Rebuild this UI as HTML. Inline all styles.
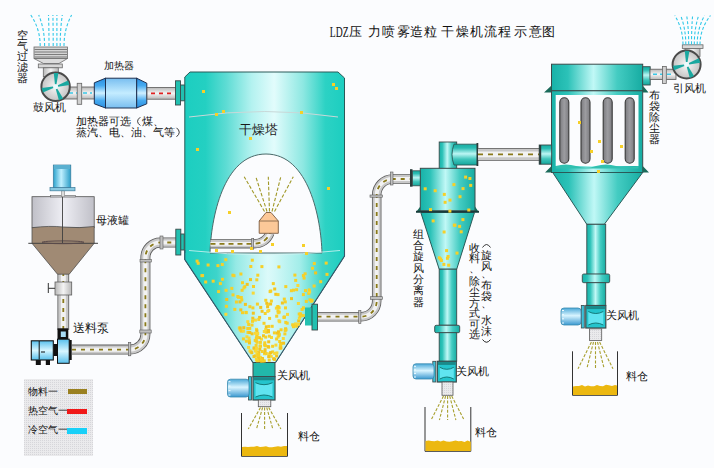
<!DOCTYPE html>
<html><head><meta charset="utf-8"><style>
html,body{margin:0;padding:0;background:#fbfcfe;}
svg{display:block;}
</style></head><body>
<svg width="714" height="468" viewBox="0 0 714 468" shape-rendering="geometricPrecision">

<defs>
 <linearGradient id="towerG" x1="0" x2="1" y1="0" y2="0">
  <stop offset="0" stop-color="#1ccec0"/>
  <stop offset="0.13" stop-color="#24d0c2"/>
  <stop offset="0.26" stop-color="#5edcd4"/>
  <stop offset="0.42" stop-color="#b4f2f0"/>
  <stop offset="0.56" stop-color="#e2fcfc"/>
  <stop offset="0.74" stop-color="#8ee8e2"/>
  <stop offset="0.88" stop-color="#2cd2c4"/>
  <stop offset="1" stop-color="#1ccec0"/>
 </linearGradient>
 <linearGradient id="coneG" x1="0" x2="1" y1="0" y2="0">
  <stop offset="0" stop-color="#1ccec0"/>
  <stop offset="0.2" stop-color="#3cd4ca"/>
  <stop offset="0.32" stop-color="#98eae6"/>
  <stop offset="0.52" stop-color="#dcfafa"/>
  <stop offset="0.72" stop-color="#a4eeea"/>
  <stop offset="0.86" stop-color="#40d4c8"/>
  <stop offset="1" stop-color="#1ccec0"/>
 </linearGradient>
 <linearGradient id="tealV" x1="0" x2="1" y1="0" y2="0">
  <stop offset="0" stop-color="#18b2a8"/>
  <stop offset="0.18" stop-color="#2cc2b8"/>
  <stop offset="0.46" stop-color="#c0f8f6"/>
  <stop offset="0.72" stop-color="#44ccc2"/>
  <stop offset="1" stop-color="#16aca2"/>
 </linearGradient>
 <linearGradient id="tealH" x1="0" x2="0" y1="0" y2="1">
  <stop offset="0" stop-color="#16aca2"/>
  <stop offset="0.18" stop-color="#2abcb2"/>
  <stop offset="0.46" stop-color="#bcf6f4"/>
  <stop offset="0.72" stop-color="#40c6bc"/>
  <stop offset="1" stop-color="#14a69c"/>
 </linearGradient>
 <linearGradient id="greyH" x1="0" x2="0" y1="0" y2="1">
  <stop offset="0" stop-color="#b8b8b8"/>
  <stop offset="0.5" stop-color="#f4f4f4"/>
  <stop offset="1" stop-color="#b8b8b8"/>
 </linearGradient>
 <linearGradient id="greyV" x1="0" x2="1" y1="0" y2="0">
  <stop offset="0" stop-color="#b8b8b8"/>
  <stop offset="0.5" stop-color="#f4f4f4"/>
  <stop offset="1" stop-color="#b8b8b8"/>
 </linearGradient>
 <linearGradient id="blueCap" x1="0" x2="0" y1="0" y2="1">
  <stop offset="0" stop-color="#2a8ee0"/>
  <stop offset="0.25" stop-color="#46aaf0"/>
  <stop offset="0.5" stop-color="#d0f0ff"/>
  <stop offset="0.75" stop-color="#46aaf0"/>
  <stop offset="1" stop-color="#2a8ee0"/>
 </linearGradient>
 <linearGradient id="blueBody" x1="0" x2="0" y1="0" y2="1">
  <stop offset="0" stop-color="#78bef0"/>
  <stop offset="0.5" stop-color="#c4ecff"/>
  <stop offset="1" stop-color="#78bef0"/>
 </linearGradient>
 <linearGradient id="blueV" x1="0" x2="1" y1="0" y2="0">
  <stop offset="0" stop-color="#2aa2cc"/>
  <stop offset="0.45" stop-color="#c0f0ff"/>
  <stop offset="1" stop-color="#2a9ec8"/>
 </linearGradient>
 <linearGradient id="tankG" x1="0" x2="1" y1="0" y2="0">
  <stop offset="0" stop-color="#c0c0c8"/>
  <stop offset="0.5" stop-color="#eeeef4"/>
  <stop offset="1" stop-color="#c0c0c8"/>
 </linearGradient>
 <radialGradient id="fanG" cx="0.5" cy="0.5" r="0.5">
  <stop offset="0" stop-color="#f8f8f8"/>
  <stop offset="1" stop-color="#c4c4c4"/>
 </radialGradient>
 <linearGradient id="bagG" x1="0" x2="1" y1="0" y2="0">
  <stop offset="0" stop-color="#7c7c80"/>
  <stop offset="0.5" stop-color="#9c9ca0"/>
  <stop offset="1" stop-color="#7c7c80"/>
 </linearGradient>
 <pattern id="dots" width="2" height="2" patternUnits="userSpaceOnUse">
  <rect width="2" height="2" fill="#eaeaec"/>
  <rect width="1" height="1" fill="#d6d6da"/>
 </pattern>
 <linearGradient id="motorG" x1="0" x2="0" y1="0" y2="1">
  <stop offset="0" stop-color="#4aa8d8"/>
  <stop offset="0.45" stop-color="#d8f4ff"/>
  <stop offset="1" stop-color="#3a98d0"/>
 </linearGradient>
 <linearGradient id="pumpG" x1="0" x2="0" y1="0" y2="1">
  <stop offset="0" stop-color="#58c0ec"/>
  <stop offset="0.5" stop-color="#d8f6ff"/>
  <stop offset="1" stop-color="#58c0ec"/>
 </linearGradient>
 <linearGradient id="blueH" x1="0" x2="0" y1="0" y2="1">
  <stop offset="0" stop-color="#2a9ad8"/>
  <stop offset="0.5" stop-color="#c8ecff"/>
  <stop offset="1" stop-color="#2a9ad8"/>
 </linearGradient>
</defs>

<rect width="714" height="468" fill="#fbfcfe"/>
<text x="329.8" y="37" font-size="15" fill="#111" font-family="&quot;Liberation Serif&quot;, serif" textLength="18.8" lengthAdjust="spacingAndGlyphs">LDZ</text>
<text x="349" y="36.2" font-size="12.6" fill="#111" font-family="&quot;Liberation Serif&quot;, serif" >压</text>
<text x="368.2" y="36.2" font-size="12.6" fill="#111" font-family="&quot;Liberation Serif&quot;, serif" >力</text>
<text x="381.6" y="36.2" font-size="12.6" fill="#111" font-family="&quot;Liberation Serif&quot;, serif" >喷</text>
<text x="396.8" y="36.2" font-size="12.6" fill="#111" font-family="&quot;Liberation Serif&quot;, serif" >雾</text>
<text x="410.3" y="36.2" font-size="12.6" fill="#111" font-family="&quot;Liberation Serif&quot;, serif" >造</text>
<text x="423.6" y="36.2" font-size="12.6" fill="#111" font-family="&quot;Liberation Serif&quot;, serif" >粒</text>
<text x="441.3" y="36.2" font-size="12.6" fill="#111" font-family="&quot;Liberation Serif&quot;, serif" >干</text>
<text x="455.6" y="36.2" font-size="12.6" fill="#111" font-family="&quot;Liberation Serif&quot;, serif" >燥</text>
<text x="469.9" y="36.2" font-size="12.6" fill="#111" font-family="&quot;Liberation Serif&quot;, serif" >机</text>
<text x="484.1" y="36.2" font-size="12.6" fill="#111" font-family="&quot;Liberation Serif&quot;, serif" >流</text>
<text x="498.4" y="36.2" font-size="12.6" fill="#111" font-family="&quot;Liberation Serif&quot;, serif" >程</text>
<text x="513.6" y="36.2" font-size="12.6" fill="#111" font-family="&quot;Liberation Serif&quot;, serif" >示</text>
<text x="528.6" y="36.2" font-size="12.6" fill="#111" font-family="&quot;Liberation Serif&quot;, serif" >意</text>
<text x="542.1" y="36.2" font-size="12.6" fill="#111" font-family="&quot;Liberation Serif&quot;, serif" >图</text>
<path d="M40.2,46 Q40.2,29 30.8,15" fill="none" stroke="#30c8e8" stroke-width="1.1" stroke-dasharray="3 2"/>
<path d="M44.6,46 Q44.6,29 38.7,15" fill="none" stroke="#30c8e8" stroke-width="1.1" stroke-dasharray="3 2"/>
<path d="M49,46 Q49,29 48.5,15" fill="none" stroke="#30c8e8" stroke-width="1.1" stroke-dasharray="3 2"/>
<path d="M53.2,46 Q53.2,29 52.9,15" fill="none" stroke="#30c8e8" stroke-width="1.1" stroke-dasharray="3 2"/>
<path d="M56.9,46 Q56.9,29 56.9,15" fill="none" stroke="#30c8e8" stroke-width="1.1" stroke-dasharray="3 2"/>
<path d="M60.2,46 Q60.2,29 62.3,15" fill="none" stroke="#30c8e8" stroke-width="1.1" stroke-dasharray="3 2"/>
<path d="M64,46 Q64,29 71.6,15" fill="none" stroke="#30c8e8" stroke-width="1.1" stroke-dasharray="3 2"/>
<rect x="34" y="47" width="33.5" height="11.5" fill="#d4d4d4" stroke="#6a6a6a" stroke-width="0.8" />
<line x1="34.5" y1="49.5" x2="67" y2="49.5" stroke="#707070" stroke-width="0.9" />
<line x1="34.5" y1="52" x2="67" y2="52" stroke="#707070" stroke-width="0.9" />
<line x1="34.5" y1="54.5" x2="67" y2="54.5" stroke="#707070" stroke-width="0.9" />
<line x1="34.5" y1="57" x2="67" y2="57" stroke="#707070" stroke-width="0.9" />
<path d="M34,58.5 L43.5,63.5 L59,63.5 L67.5,58.5 Z" fill="#dcdcdc" stroke="#6a6a6a" stroke-width="0.8"/>
<rect x="38.3" y="64" width="24" height="3.8" fill="#d8d8d8" stroke="#6a6a6a" stroke-width="0.8" />
<rect x="43.3" y="67.8" width="15" height="9" fill="url(#greyV)" stroke="#6a6a6a" stroke-width="0.8" />
<rect x="58" y="87" width="37" height="12" fill="url(#greyH)" stroke="#5a5a5a" stroke-width="0.8" />
<line x1="62" y1="93" x2="92" y2="93" stroke="#38c8e8" stroke-width="1.6" stroke-dasharray="4 3"/>
<rect x="77.2" y="83.3" width="4.5" height="21" fill="#d0d0d0" stroke="#666" stroke-width="0.8" />
<circle cx="55.6" cy="86.7" r="14.2" fill="url(#fanG)" stroke="#4a4a4a" stroke-width="2"/>
<path d="M56.5,84.2 L58.4,73.0 L53.8,72.9 L54.9,84.2 Z" fill="#1aa8a0"/>
<path d="M58.2,86.7 L69.4,84.9 L68.1,80.5 L57.8,85.2 Z" fill="#1aa8a0"/>
<path d="M55.8,89.3 L58.9,100.3 L63.1,98.5 L57.3,88.7 Z" fill="#1aa8a0"/>
<path d="M53.0,86.6 L41.7,88.0 L42.9,92.5 L53.4,88.1 Z" fill="#1aa8a0"/>
<circle cx="55.6" cy="86.7" r="2.2" fill="#e8fcff"/>
<path d="M94.3,82.8 L105.5,78.2 L105.5,108 L94.3,103.8 Z" fill="url(#blueCap)" stroke="#1e3050" stroke-width="1"/>
<path d="M136.6,78.2 L146.8,83.2 L146.8,103.8 L136.6,108 Z" fill="url(#blueCap)" stroke="#1e3050" stroke-width="1"/>
<rect x="105.5" y="78.2" width="31.1" height="29.8" fill="url(#blueBody)" stroke="#1e3050" stroke-width="1" />
<rect x="147" y="87.5" width="29" height="11.7" fill="url(#greyH)" stroke="#5a5a5a" stroke-width="0.8" />
<line x1="151" y1="93.3" x2="174" y2="93.3" stroke="#e02020" stroke-width="1.8" stroke-dasharray="4 4"/>
<rect x="175.5" y="80.8" width="5" height="24.2" fill="#22c0b0" stroke="#3a4a4a" stroke-width="0.9" />
<rect x="180.5" y="85" width="4.2" height="15.8" fill="#22c0b0" stroke="#3a4a4a" stroke-width="0.9" />
<text x="103.5" y="69" font-size="10" fill="#111" font-family="&quot;Liberation Sans&quot;, sans-serif" >加热器</text>
<text x="33" y="111" font-size="10.5" fill="#111" font-family="&quot;Liberation Sans&quot;, sans-serif" >鼓风机</text>
<text x="76.3" y="125.2" font-size="10.8" fill="#111" font-family="&quot;Liberation Sans&quot;, sans-serif" >加</text>
<text x="87.25" y="125.2" font-size="10.8" fill="#111" font-family="&quot;Liberation Sans&quot;, sans-serif" >热</text>
<text x="98.2" y="125.2" font-size="10.8" fill="#111" font-family="&quot;Liberation Sans&quot;, sans-serif" >器</text>
<text x="109.15" y="125.2" font-size="10.8" fill="#111" font-family="&quot;Liberation Sans&quot;, sans-serif" >可</text>
<text x="120.1" y="125.2" font-size="10.8" fill="#111" font-family="&quot;Liberation Sans&quot;, sans-serif" >选</text>
<text x="142.0" y="125.2" font-size="10.8" fill="#111" font-family="&quot;Liberation Sans&quot;, sans-serif" >煤</text>
<text x="152.95" y="125.2" font-size="10.8" fill="#111" font-family="&quot;Liberation Sans&quot;, sans-serif" >、</text>
<path d="M140.3,117.2 Q134.8,121.3 140.3,125.5" fill="none" stroke="#222" stroke-width="0.9"/>
<text x="76.3" y="136.2" font-size="10.8" fill="#111" font-family="&quot;Liberation Sans&quot;, sans-serif" >蒸</text>
<text x="87.25" y="136.2" font-size="10.8" fill="#111" font-family="&quot;Liberation Sans&quot;, sans-serif" >汽</text>
<text x="98.2" y="136.2" font-size="10.8" fill="#111" font-family="&quot;Liberation Sans&quot;, sans-serif" >、</text>
<text x="109.15" y="136.2" font-size="10.8" fill="#111" font-family="&quot;Liberation Sans&quot;, sans-serif" >电</text>
<text x="120.1" y="136.2" font-size="10.8" fill="#111" font-family="&quot;Liberation Sans&quot;, sans-serif" >、</text>
<text x="131.05" y="136.2" font-size="10.8" fill="#111" font-family="&quot;Liberation Sans&quot;, sans-serif" >油</text>
<text x="142.0" y="136.2" font-size="10.8" fill="#111" font-family="&quot;Liberation Sans&quot;, sans-serif" >、</text>
<text x="152.95" y="136.2" font-size="10.8" fill="#111" font-family="&quot;Liberation Sans&quot;, sans-serif" >气</text>
<text x="163.9" y="136.2" font-size="10.8" fill="#111" font-family="&quot;Liberation Sans&quot;, sans-serif" >等</text>
<path d="M176.5,127.8 Q182,132.2 176.5,136.8" fill="none" stroke="#222" stroke-width="0.9"/>
<text x="17" y="38.8" font-size="11" fill="#111" font-family="&quot;Liberation Sans&quot;, sans-serif">空</text>
<text x="17" y="49.599999999999994" font-size="11" fill="#111" font-family="&quot;Liberation Sans&quot;, sans-serif">气</text>
<text x="17" y="60.4" font-size="11" fill="#111" font-family="&quot;Liberation Sans&quot;, sans-serif">过</text>
<text x="17" y="71.2" font-size="11" fill="#111" font-family="&quot;Liberation Sans&quot;, sans-serif">滤</text>
<text x="17" y="82.0" font-size="11" fill="#111" font-family="&quot;Liberation Sans&quot;, sans-serif">器</text>
<path d="M190,72 L338,72 L344.5,78 L344.5,256 L275.5,362.5 L253,362.5 L184.8,259.5 L184.8,77 Z" fill="url(#towerG)" stroke="#2a5a58" stroke-width="1"/>
<path d="M184.8,253 L344.5,253 L344.5,256 L275.5,362.5 L253,362.5 L184.8,259.5 Z" fill="url(#coneG)" opacity="0.9"/>
<path d="M344.5,250 L344.5,256 L275.5,362.5 M253,362.5 L184.8,259.5 L184.8,250" fill="none" stroke="#35586a" stroke-width="1.1"/>
<path d="M184.5,260 L184.5,255" stroke="none"/>
<path d="M189,117 Q266,106 338,117" fill="none" stroke="#c8d8d8" stroke-width="1"/>
<path d="M210,253 C211,219 223,154 266,154 C309,154 321,219 322,253 Z" fill="#fbfcfe" stroke="#4a6a6a" stroke-width="1"/>
<path d="M189,250.5 Q266,259 340,250.5" fill="none" stroke="#d8f4f4" stroke-width="0.8"/>
<text x="238.5" y="134" font-size="13.3" fill="#1a1a1a" font-family="&quot;Liberation Sans&quot;, sans-serif" font-weight="500">干燥塔</text>
<line x1="264.5" y1="211.5" x2="244.2" y2="176.7" stroke="#a09828" stroke-width="1.1" stroke-dasharray="3.5 1.8"/>
<line x1="267.0" y1="211.5" x2="255.8" y2="176.7" stroke="#a09828" stroke-width="1.1" stroke-dasharray="3.5 1.8"/>
<line x1="269.5" y1="211.5" x2="268.3" y2="176.7" stroke="#a09828" stroke-width="1.1" stroke-dasharray="3.5 1.8"/>
<line x1="272.0" y1="211.5" x2="280.8" y2="176.7" stroke="#a09828" stroke-width="1.1" stroke-dasharray="3.5 1.8"/>
<line x1="274.5" y1="211.5" x2="293.3" y2="176.7" stroke="#a09828" stroke-width="1.1" stroke-dasharray="3.5 1.8"/>
<path d="M210.5,243.8 L253.5,243.8 Q265.5,243.8 270,233" fill="none" stroke="#5a5a5a" stroke-width="9.2"/>
<path d="M210.5,243.8 L253.5,243.8 Q265.5,243.8 270,233" fill="none" stroke="#c8c8c8" stroke-width="7.6"/>
<path d="M210.5,243.8 L253.5,243.8 Q265.5,243.8 270,233" fill="none" stroke="#f2f2f2" stroke-width="3.8"/>
<path d="M210.5,243.8 L253.5,243.8 Q265.5,243.8 270,233" fill="none" stroke="#8a7a1a" stroke-width="1.8" stroke-dasharray="5 4" stroke-dashoffset="0"/>
<rect x="251.7" y="238.4" width="2" height="10.8" fill="#c0c0c0" stroke="#5a5a5a" stroke-width="0.6" />
<path d="M259.2,221 L266,212.5 L271,212.5 L278.3,221 L278.3,233.3 L259.2,233.3 Z" fill="#fcc898" stroke="#7a5a40" stroke-width="0.9"/>
<line x1="259.2" y1="221" x2="278.3" y2="221" stroke="#7a5a40" stroke-width="0.8" />
<path d="M63.3,272 L63.3,330" fill="none" stroke="#5a5a5a" stroke-width="11.7"/>
<path d="M63.3,272 L63.3,330" fill="none" stroke="#c8c8c8" stroke-width="10.1"/>
<path d="M63.3,272 L63.3,330" fill="none" stroke="#f2f2f2" stroke-width="5.05"/>
<path d="M63.3,272 L63.3,330" fill="none" stroke="#8a7a1a" stroke-width="1.8" stroke-dasharray="4 5" stroke-dashoffset="0"/>
<path d="M72,349.6 L130,349.6 A15.4,15.4 0 0 0 145.4,334.2 L145.4,257.5 A15,15 0 0 1 160.4,242.5 L176,242.5" fill="none" stroke="#5a5a5a" stroke-width="10"/>
<path d="M72,349.6 L130,349.6 A15.4,15.4 0 0 0 145.4,334.2 L145.4,257.5 A15,15 0 0 1 160.4,242.5 L176,242.5" fill="none" stroke="#c8c8c8" stroke-width="8.4"/>
<path d="M72,349.6 L130,349.6 A15.4,15.4 0 0 0 145.4,334.2 L145.4,257.5 A15,15 0 0 1 160.4,242.5 L176,242.5" fill="none" stroke="#f2f2f2" stroke-width="4.2"/>
<path d="M72,349.6 L130,349.6 A15.4,15.4 0 0 0 145.4,334.2 L145.4,257.5 A15,15 0 0 1 160.4,242.5 L176,242.5" fill="none" stroke="#8a7a1a" stroke-width="1.8" stroke-dasharray="4 5" stroke-dashoffset="0"/>
<rect x="128.3" y="342.5" width="2.5" height="13.3" fill="#c0c0c0" stroke="#5a5a5a" stroke-width="0.6" />
<rect x="139.8" y="330" width="11.4" height="3" fill="#c0c0c0" stroke="#5a5a5a" stroke-width="0.6" />
<rect x="140" y="259.5" width="11.3" height="2.5" fill="#c0c0c0" stroke="#5a5a5a" stroke-width="0.6" />
<rect x="160" y="236" width="3" height="13" fill="#c0c0c0" stroke="#5a5a5a" stroke-width="0.6" />
<rect x="175.8" y="229.2" width="5" height="25.8" fill="#22c0b0" stroke="#3a4a4a" stroke-width="0.9" />
<rect x="180.8" y="234" width="3.4" height="16" fill="#22c0b0" stroke="#3a4a4a" stroke-width="0.9" />
<rect x="305" y="307.5" width="8" height="18" fill="#22c0b0" />
<path d="M317.5,316.7 L361,316.7 A15.7,15.7 0 0 0 376.7,301 L376.7,195 A16,16 0 0 1 392.7,179 L411,179" fill="none" stroke="#5a5a5a" stroke-width="9.5"/>
<path d="M317.5,316.7 L361,316.7 A15.7,15.7 0 0 0 376.7,301 L376.7,195 A16,16 0 0 1 392.7,179 L411,179" fill="none" stroke="#c8c8c8" stroke-width="7.9"/>
<path d="M317.5,316.7 L361,316.7 A15.7,15.7 0 0 0 376.7,301 L376.7,195 A16,16 0 0 1 392.7,179 L411,179" fill="none" stroke="#f2f2f2" stroke-width="3.95"/>
<path d="M317.5,316.7 L361,316.7 A15.7,15.7 0 0 0 376.7,301 L376.7,195 A16,16 0 0 1 392.7,179 L411,179" fill="none" stroke="#8a7a1a" stroke-width="1.8" stroke-dasharray="4 5" stroke-dashoffset="0"/>
<rect x="312" y="304.2" width="5.5" height="25.8" fill="#22c0b0" stroke="#3a4a4a" stroke-width="0.9" />
<rect x="358.7" y="310.5" width="2.2" height="13" fill="#c0c0c0" stroke="#5a5a5a" stroke-width="0.6" />
<rect x="370.5" y="296.7" width="12" height="2.6" fill="#c0c0c0" stroke="#5a5a5a" stroke-width="0.6" />
<rect x="370" y="195" width="12.5" height="2.2" fill="#c0c0c0" stroke="#5a5a5a" stroke-width="0.6" />
<rect x="390.5" y="172" width="2.5" height="13" fill="#c0c0c0" stroke="#5a5a5a" stroke-width="0.6" />
<rect x="253" y="362.5" width="22" height="14.2" fill="#22b8aa" stroke="#3a4a4a" stroke-width="1" />
<rect x="253" y="376.7" width="22" height="23.3" fill="#24c4cc" stroke="#3a4a4a" stroke-width="1.2" />
<rect x="253.6" y="377.3" width="20.8" height="3" fill="#1a8a8a" />
<path d="M255.5,382.7 Q264.0,386.7 272.5,382.7 L272.5,397.0 Q264.0,393.0 255.5,397.0 Z" fill="#60e4f0"/>
<path d="M255.5,382.7 Q264.0,386.7 272.5,382.7" fill="none" stroke="#147a7a" stroke-width="1"/>
<path d="M255.5,397.0 Q264.0,393.0 272.5,397.0" fill="none" stroke="#147a7a" stroke-width="1"/>
<rect x="248.5" y="376.7" width="3" height="23.3" fill="#3cc0d8" stroke="#3a4a4a" stroke-width="0.8" />
<rect x="227.5" y="379.2" width="21.5" height="17.8" rx="3" fill="url(#motorG)" stroke="#3a8ab0" stroke-width="0.8"/>
<line x1="228.5" y1="381.7" x2="230.5" y2="381.7" stroke="#f0fbff" stroke-width="1"/>
<line x1="228.5" y1="386.1" x2="230.5" y2="386.1" stroke="#f0fbff" stroke-width="1"/>
<line x1="228.5" y1="390.6" x2="230.5" y2="390.6" stroke="#f0fbff" stroke-width="1"/>
<line x1="228.5" y1="395.0" x2="230.5" y2="395.0" stroke="#f0fbff" stroke-width="1"/>
<rect x="258.3" y="400" width="12.5" height="6.7" fill="url(#dots)" stroke="#5a5a5a" stroke-width="0.8" />
<line x1="260.5" y1="407.5" x2="248.3" y2="429" stroke="#a8a030" stroke-width="1.1" stroke-dasharray="3 1.6"/>
<line x1="262.6" y1="407.5" x2="256.5" y2="429" stroke="#a8a030" stroke-width="1.1" stroke-dasharray="3 1.6"/>
<line x1="264.6" y1="407.5" x2="264.6" y2="429" stroke="#a8a030" stroke-width="1.1" stroke-dasharray="3 1.6"/>
<line x1="266.7" y1="407.5" x2="272.8" y2="429" stroke="#a8a030" stroke-width="1.1" stroke-dasharray="3 1.6"/>
<line x1="268.7" y1="407.5" x2="280.9" y2="429" stroke="#a8a030" stroke-width="1.1" stroke-dasharray="3 1.6"/>
<line x1="241.5" y1="413" x2="241.5" y2="456.3" stroke="#333" stroke-width="1" />
<line x1="287.5" y1="413" x2="287.5" y2="456.3" stroke="#333" stroke-width="1" />
<line x1="241.5" y1="456.3" x2="287.5" y2="456.3" stroke="#333" stroke-width="1" />
<text x="277" y="379.2" font-size="11.3" fill="#111" font-family="&quot;Liberation Sans&quot;, sans-serif" >关风机</text>
<text x="297.5" y="440" font-size="11" fill="#111" font-family="&quot;Liberation Sans&quot;, sans-serif" >料仓</text>
<rect x="32" y="196.7" width="62.2" height="31" fill="url(#tankG)" stroke="#505050" stroke-width="0.8" />
<rect x="50.5" y="195.5" width="25" height="1.5" fill="#d8d8dc" stroke="#606060" stroke-width="0.6" />
<path d="M32,227.7 Q50,225.5 63,227 Q80,228.5 94.2,226.5 L94.2,243.3 L69.2,274.2 L57.5,274.2 L32,243.3 Z" fill="#a08a74" stroke="#505050" stroke-width="0.8"/>
<line x1="28.3" y1="243.3" x2="98" y2="243.3" stroke="#404040" stroke-width="1" />
<ellipse cx="63" cy="242.3" rx="21" ry="1.4" fill="none" stroke="#5a4a4a" stroke-width="1"/>
<line x1="62.5" y1="190.8" x2="62.5" y2="243" stroke="#404040" stroke-width="0.9" />
<rect x="61.3" y="190.8" width="3.4" height="6" fill="#dcdcdc" stroke="#777" stroke-width="0.5" />
<rect x="50" y="187.5" width="25" height="3.3" fill="#88c8e0" stroke="#3a7a9a" stroke-width="0.7" />
<rect x="53.3" y="165" width="17.5" height="22.5" fill="url(#blueV)" stroke="#3a7a9a" stroke-width="0.7" />
<rect x="54" y="165" width="16" height="4" fill="#5ab0d0" />
<text x="95.8" y="223.5" font-size="10.8" fill="#111" font-family="&quot;Liberation Sans&quot;, sans-serif" >母液罐</text>
<rect x="55" y="282" width="16.7" height="13" fill="url(#greyV)" stroke="#606060" stroke-width="0.8" />
<line x1="48.3" y1="283" x2="48.3" y2="293" stroke="#333" stroke-width="1" />
<line x1="48.3" y1="288.3" x2="55" y2="288.3" stroke="#333" stroke-width="1" />
<rect x="57.5" y="328.3" width="10.8" height="11" fill="#111" />
<rect x="60.8" y="331.5" width="5" height="5.5" fill="#a8dcf4" />
<rect x="57.5" y="339.2" width="11.7" height="24.1" fill="url(#pumpG)" stroke="#111" stroke-width="1" />
<rect x="69.2" y="340" width="2.5" height="20" fill="#111" />
<rect x="53.3" y="344" width="4.2" height="12" fill="#111" />
<rect x="31.3" y="340.8" width="22" height="19.2" fill="url(#pumpG)" stroke="#111" stroke-width="1.1" />
<line x1="39.2" y1="341" x2="39.2" y2="359.5" stroke="#111" stroke-width="1" />
<line x1="41" y1="352" x2="45" y2="352" stroke="#111" stroke-width="1" />
<rect x="35.8" y="360" width="5" height="5" fill="#111" />
<rect x="45.8" y="360" width="4.2" height="5" fill="#111" />
<text x="73" y="332" font-size="11.5" fill="#111" font-family="&quot;Liberation Sans&quot;, sans-serif" >送料泵</text>
<rect x="24" y="379" width="69" height="77" fill="url(#dots)" />
<text x="28" y="394.5" font-size="9.8" fill="#111" font-family="&quot;Liberation Sans&quot;, sans-serif" >物料一</text>
<text x="28" y="413.5" font-size="9.8" fill="#111" font-family="&quot;Liberation Sans&quot;, sans-serif" >热空气一</text>
<text x="28" y="433" font-size="9.8" fill="#111" font-family="&quot;Liberation Sans&quot;, sans-serif" >冷空气一</text>
<rect x="68" y="389" width="19" height="5" fill="#9a8020" />
<rect x="67" y="409" width="20" height="5" fill="#f01818" />
<rect x="67" y="428" width="20" height="6" fill="#18d0f8" />
<rect x="439.2" y="142" width="17.5" height="27" fill="url(#tealV)" stroke="#3a4a4a" stroke-width="0.9" />
<path d="M454,144.2 L477.5,144.2 L477.5,165 L454,165 Q450,154.6 454,144.2 Z" fill="url(#tealH)" stroke="#2a5a58" stroke-width="0.9"/>
<rect x="476.5" y="143" width="1.8" height="23" fill="#2a3a3a" />
<path d="M478,154.4 L540,154.4" fill="none" stroke="#5a5a5a" stroke-width="12.8"/>
<path d="M478,154.4 L540,154.4" fill="none" stroke="#c8c8c8" stroke-width="11.200000000000001"/>
<path d="M478,154.4 L540,154.4" fill="none" stroke="#f2f2f2" stroke-width="5.6000000000000005"/>
<path d="M478,154.4 L540,154.4" fill="none" stroke="#8a7a1a" stroke-width="1.8" stroke-dasharray="5 5" stroke-dashoffset="0"/>
<rect x="410" y="169.2" width="2.5" height="17.5" fill="#2a3a3a" />
<rect x="412.5" y="170.8" width="8" height="15" fill="url(#tealH)" stroke="#3a4a4a" stroke-width="0.8" />
<rect x="420.3" y="168.3" width="54.7" height="42.5" fill="url(#tealV)" stroke="#3a4a4a" stroke-width="1" />
<path d="M420.8,212.5 L474.5,212.5 L456.7,269.2 L439.2,269.2 Z" fill="url(#tealV)" stroke="#2a5a58" stroke-width="1"/>
<path d="M415.8,212.5 L420.3,206.5 L420.3,212.5 Z M479,212.5 L475,206.5 L475,212.5 Z" fill="#1a6a5a"/>
<rect x="416" y="210.8" width="63" height="1.8" fill="#1a3a3a" />
<rect x="439.2" y="269.2" width="17.5" height="56" fill="url(#tealV)" stroke="#3a4a4a" stroke-width="0.9" />
<rect x="434.7" y="325.3" width="25" height="7.4" fill="url(#tealV)" stroke="#3a4a4a" stroke-width="0.9" rx="1.5" />
<rect x="439.2" y="332.7" width="17.5" height="28.6" fill="url(#tealV)" stroke="#3a4a4a" stroke-width="0.9" />
<rect x="437.3" y="361.3" width="19" height="20.7" fill="#24c4cc" stroke="#3a4a4a" stroke-width="1.2" />
<rect x="437.90000000000003" y="361.90000000000003" width="17.8" height="3" fill="#1a8a8a" />
<path d="M439.8,367.3 Q446.8,371.3 453.8,367.3 L453.8,379.0 Q446.8,375.0 439.8,379.0 Z" fill="#60e4f0"/>
<path d="M439.8,367.3 Q446.8,371.3 453.8,367.3" fill="none" stroke="#147a7a" stroke-width="1"/>
<path d="M439.8,379.0 Q446.8,375.0 453.8,379.0" fill="none" stroke="#147a7a" stroke-width="1"/>
<rect x="432.8" y="361.3" width="3" height="20.7" fill="#3cc0d8" stroke="#3a4a4a" stroke-width="0.8" />
<rect x="413" y="363.8" width="21" height="15.2" rx="3" fill="url(#motorG)" stroke="#3a8ab0" stroke-width="0.8"/>
<line x1="414" y1="366.3" x2="416" y2="366.3" stroke="#f0fbff" stroke-width="1"/>
<line x1="414" y1="369.9" x2="416" y2="369.9" stroke="#f0fbff" stroke-width="1"/>
<line x1="414" y1="373.4" x2="416" y2="373.4" stroke="#f0fbff" stroke-width="1"/>
<line x1="414" y1="377.0" x2="416" y2="377.0" stroke="#f0fbff" stroke-width="1"/>
<rect x="442" y="382" width="11" height="13.3" fill="url(#dots)" stroke="#5a5a5a" stroke-width="0.8" />
<line x1="443.5" y1="396" x2="431.1" y2="420" stroke="#a8a030" stroke-width="1.1" stroke-dasharray="3 1.6"/>
<line x1="445.6" y1="396" x2="439.4" y2="420" stroke="#a8a030" stroke-width="1.1" stroke-dasharray="3 1.6"/>
<line x1="447.6" y1="396" x2="447.6" y2="420" stroke="#a8a030" stroke-width="1.1" stroke-dasharray="3 1.6"/>
<line x1="449.7" y1="396" x2="455.9" y2="420" stroke="#a8a030" stroke-width="1.1" stroke-dasharray="3 1.6"/>
<line x1="451.7" y1="396" x2="464.1" y2="420" stroke="#a8a030" stroke-width="1.1" stroke-dasharray="3 1.6"/>
<line x1="425" y1="407" x2="425" y2="451.3" stroke="#333" stroke-width="1" />
<line x1="470.8" y1="407" x2="470.8" y2="451.3" stroke="#333" stroke-width="1" />
<line x1="425" y1="451.3" x2="470.8" y2="451.3" stroke="#333" stroke-width="1" />
<text x="456" y="374.5" font-size="11" fill="#111" font-family="&quot;Liberation Sans&quot;, sans-serif" >关风机</text>
<text x="475" y="435.5" font-size="11" fill="#111" font-family="&quot;Liberation Sans&quot;, sans-serif" >料仓</text>
<text x="413" y="237.8" font-size="10.8" fill="#111" font-family="&quot;Liberation Sans&quot;, sans-serif">组</text>
<text x="413" y="249.10000000000002" font-size="10.8" fill="#111" font-family="&quot;Liberation Sans&quot;, sans-serif">合</text>
<text x="413" y="260.40000000000003" font-size="10.8" fill="#111" font-family="&quot;Liberation Sans&quot;, sans-serif">旋</text>
<text x="413" y="271.70000000000005" font-size="10.8" fill="#111" font-family="&quot;Liberation Sans&quot;, sans-serif">风</text>
<text x="413" y="283.0" font-size="10.8" fill="#111" font-family="&quot;Liberation Sans&quot;, sans-serif">分</text>
<text x="413" y="294.3" font-size="10.8" fill="#111" font-family="&quot;Liberation Sans&quot;, sans-serif">离</text>
<text x="413" y="305.6" font-size="10.8" fill="#111" font-family="&quot;Liberation Sans&quot;, sans-serif">器</text>
<text x="469" y="252" font-size="10.5" fill="#111" font-family="&quot;Liberation Sans&quot;, sans-serif" >收</text>
<text x="469" y="262" font-size="10.5" fill="#111" font-family="&quot;Liberation Sans&quot;, sans-serif" >料</text>
<text x="469" y="272" font-size="10.5" fill="#111" font-family="&quot;Liberation Sans&quot;, sans-serif" >、</text>
<text x="469" y="285.3" font-size="10.5" fill="#111" font-family="&quot;Liberation Sans&quot;, sans-serif" >除</text>
<text x="469" y="295.9" font-size="10.5" fill="#111" font-family="&quot;Liberation Sans&quot;, sans-serif" >尘</text>
<text x="469" y="306.5" font-size="10.5" fill="#111" font-family="&quot;Liberation Sans&quot;, sans-serif" >方</text>
<text x="469" y="317.1" font-size="10.5" fill="#111" font-family="&quot;Liberation Sans&quot;, sans-serif" >式</text>
<text x="469" y="327.7" font-size="10.5" fill="#111" font-family="&quot;Liberation Sans&quot;, sans-serif" >可</text>
<text x="469" y="338.3" font-size="10.5" fill="#111" font-family="&quot;Liberation Sans&quot;, sans-serif" >选</text>
<text x="481.3" y="258.5" font-size="10.5" fill="#111" font-family="&quot;Liberation Sans&quot;, sans-serif" >旋</text>
<text x="481.3" y="269.5" font-size="10.5" fill="#111" font-family="&quot;Liberation Sans&quot;, sans-serif" >风</text>
<text x="481.3" y="276.5" font-size="10.5" fill="#111" font-family="&quot;Liberation Sans&quot;, sans-serif" >、</text>
<text x="481.3" y="289" font-size="10.5" fill="#111" font-family="&quot;Liberation Sans&quot;, sans-serif" >布</text>
<text x="481.3" y="299.5" font-size="10.5" fill="#111" font-family="&quot;Liberation Sans&quot;, sans-serif" >袋</text>
<text x="481.3" y="306.5" font-size="10.5" fill="#111" font-family="&quot;Liberation Sans&quot;, sans-serif" >、</text>
<text x="481.3" y="324.3" font-size="10.5" fill="#111" font-family="&quot;Liberation Sans&quot;, sans-serif" >水</text>
<text x="481.3" y="335" font-size="10.5" fill="#111" font-family="&quot;Liberation Sans&quot;, sans-serif" >沫</text>
<path d="M482.5,247.5 Q486.5,241.5 490.5,247.5" fill="none" stroke="#222" stroke-width="0.9"/>
<path d="M482.5,339.5 Q486.5,345 490.5,339.5" fill="none" stroke="#111" stroke-width="0.9"/>
<rect x="551.5" y="64.2" width="91.2" height="26.6" fill="url(#tealV)" stroke="#3a4a4a" stroke-width="1" />
<path d="M544,92.5 L551.5,85.5 L551.5,92.5 Z M648.5,92.5 L642.7,85.5 L642.7,92.5 Z" fill="#1a6a5a"/>
<rect x="551.5" y="90.8" width="91.2" height="81.7" fill="url(#tealV)" stroke="#3a4a4a" stroke-width="1" />
<rect x="555.7" y="95" width="82.8" height="71" fill="#fbfcfe" />
<path d="M555.7,166 Q566,163 576,166 Q586,169 596,166 Q606,163 616,166 Q626,169 638.5,166 L638.5,168.5 L555.7,168.5 Z" fill="#30c0b0"/>
<rect x="559.8" y="97.8" width="9.0" height="65.5" fill="url(#bagG)" stroke="#383838" stroke-width="1.1" rx="4.5" />
<rect x="581" y="97.8" width="9.0" height="65.5" fill="url(#bagG)" stroke="#383838" stroke-width="1.1" rx="4.5" />
<rect x="603.2" y="97.8" width="9.0" height="65.5" fill="url(#bagG)" stroke="#383838" stroke-width="1.1" rx="4.5" />
<rect x="625.2" y="97.8" width="9.0" height="65.5" fill="url(#bagG)" stroke="#383838" stroke-width="1.1" rx="4.5" />
<path d="M545,172.5 L551.5,166 L551.5,172.5 Z M649,172.5 L642.7,166 L642.7,172.5 Z" fill="#1a6a5a"/>
<path d="M552.7,172.5 L642.7,172.5 L604.3,224.3 L586.8,224.3 Z" fill="url(#tealV)" stroke="#2a5a58" stroke-width="1"/>
<rect x="586.8" y="224.3" width="18.9" height="50" fill="url(#tealV)" stroke="#3a4a4a" stroke-width="0.9" />
<rect x="582.3" y="274" width="27.4" height="8.7" fill="url(#tealV)" stroke="#3a4a4a" stroke-width="0.9" rx="1.5" />
<rect x="586.8" y="282.7" width="18.9" height="23" fill="url(#tealV)" stroke="#3a4a4a" stroke-width="0.9" />
<rect x="585.8" y="305.5" width="20" height="22.5" fill="#24c4cc" stroke="#3a4a4a" stroke-width="1.2" />
<rect x="586.4" y="306.1" width="18.8" height="3" fill="#1a8a8a" />
<path d="M588.3,311.5 Q595.8,315.5 603.3,311.5 L603.3,325.0 Q595.8,321.0 588.3,325.0 Z" fill="#60e4f0"/>
<path d="M588.3,311.5 Q595.8,315.5 603.3,311.5" fill="none" stroke="#147a7a" stroke-width="1"/>
<path d="M588.3,325.0 Q595.8,321.0 603.3,325.0" fill="none" stroke="#147a7a" stroke-width="1"/>
<rect x="581.3" y="305.5" width="3" height="22.5" fill="#3cc0d8" stroke="#3a4a4a" stroke-width="0.8" />
<rect x="561" y="308.0" width="20" height="17.0" rx="3" fill="url(#motorG)" stroke="#3a8ab0" stroke-width="0.8"/>
<line x1="562" y1="310.5" x2="564" y2="310.5" stroke="#f0fbff" stroke-width="1"/>
<line x1="562" y1="314.7" x2="564" y2="314.7" stroke="#f0fbff" stroke-width="1"/>
<line x1="562" y1="318.8" x2="564" y2="318.8" stroke="#f0fbff" stroke-width="1"/>
<line x1="562" y1="323.0" x2="564" y2="323.0" stroke="#f0fbff" stroke-width="1"/>
<rect x="589.5" y="328.8" width="12.2" height="11.7" fill="url(#dots)" stroke="#5a5a5a" stroke-width="0.8" />
<line x1="591.4" y1="342" x2="578.0" y2="368.8" stroke="#a8a030" stroke-width="1.1" stroke-dasharray="3 1.6"/>
<line x1="593.5" y1="342" x2="586.8" y2="368.8" stroke="#a8a030" stroke-width="1.1" stroke-dasharray="3 1.6"/>
<line x1="595.5" y1="342" x2="595.5" y2="368.8" stroke="#a8a030" stroke-width="1.1" stroke-dasharray="3 1.6"/>
<line x1="597.5" y1="342" x2="604.2" y2="368.8" stroke="#a8a030" stroke-width="1.1" stroke-dasharray="3 1.6"/>
<line x1="599.6" y1="342" x2="613.0" y2="368.8" stroke="#a8a030" stroke-width="1.1" stroke-dasharray="3 1.6"/>
<line x1="572.5" y1="351.3" x2="572.5" y2="395.3" stroke="#333" stroke-width="1" />
<line x1="617.5" y1="351.3" x2="617.5" y2="395.3" stroke="#333" stroke-width="1" />
<line x1="572.5" y1="395.3" x2="617.5" y2="395.3" stroke="#333" stroke-width="1" />
<text x="606" y="318.7" font-size="10.8" fill="#111" font-family="&quot;Liberation Sans&quot;, sans-serif" >关风机</text>
<text x="625.5" y="379.5" font-size="11" fill="#111" font-family="&quot;Liberation Sans&quot;, sans-serif" >料仓</text>
<rect x="539.2" y="145" width="12.5" height="19.2" fill="url(#tealH)" stroke="#3a4a4a" stroke-width="0.9" />
<rect x="539.2" y="145" width="2" height="19.2" fill="#2a3a3a" />
<rect x="642.7" y="66.7" width="7.5" height="18.3" fill="url(#tealH)" stroke="#3a4a4a" stroke-width="0.9" />
<rect x="650" y="69.2" width="26" height="10.3" fill="url(#greyH)" stroke="#5a5a5a" stroke-width="0.8" />
<line x1="653" y1="74.3" x2="672" y2="74.3" stroke="#38c8e8" stroke-width="1.6" stroke-dasharray="4 3"/>
<rect x="662.5" y="66.4" width="3.8" height="17" fill="#d0d0d0" stroke="#666" stroke-width="0.8" />
<rect x="685" y="48.5" width="15" height="8" fill="url(#greyV)" stroke="#6a6a6a" stroke-width="0.8" />
<rect x="682.3" y="44.8" width="20.7" height="3.7" fill="#d8d8d8" stroke="#6a6a6a" stroke-width="0.8" />
<path d="M683,44.5 Q683,29 674.8,15.5" fill="none" stroke="#30c8e8" stroke-width="1.1" stroke-dasharray="3 2"/>
<path d="M685.8,44.5 Q685.8,29 680.7,15.5" fill="none" stroke="#30c8e8" stroke-width="1.1" stroke-dasharray="3 2"/>
<path d="M688.7,44.5 Q688.7,29 686.7,15.5" fill="none" stroke="#30c8e8" stroke-width="1.1" stroke-dasharray="3 2"/>
<path d="M691.5,44.5 Q691.5,29 692.6,15.5" fill="none" stroke="#30c8e8" stroke-width="1.1" stroke-dasharray="3 2"/>
<path d="M694.3,44.5 Q694.3,29 698.6,15.5" fill="none" stroke="#30c8e8" stroke-width="1.1" stroke-dasharray="3 2"/>
<path d="M697.2,44.5 Q697.2,29 704.5,15.5" fill="none" stroke="#30c8e8" stroke-width="1.1" stroke-dasharray="3 2"/>
<path d="M700,44.5 Q700,29 710.5,15.5" fill="none" stroke="#30c8e8" stroke-width="1.1" stroke-dasharray="3 2"/>
<circle cx="686.6" cy="64.5" r="14" fill="url(#fanG)" stroke="#4a4a4a" stroke-width="2"/>
<path d="M687.5,62.0 L689.4,51.0 L684.8,50.8 L685.9,62.0 Z" fill="#1aa8a0"/>
<path d="M689.2,64.5 L700.3,62.7 L698.9,58.3 L688.8,63.0 Z" fill="#1aa8a0"/>
<path d="M686.8,67.1 L689.8,77.9 L694.0,76.1 L688.3,66.5 Z" fill="#1aa8a0"/>
<path d="M684.0,64.4 L672.9,65.8 L674.1,70.2 L684.4,65.9 Z" fill="#1aa8a0"/>
<circle cx="686.6" cy="64.5" r="2.2" fill="#e8fcff"/>
<text x="673" y="91.8" font-size="11" fill="#111" font-family="&quot;Liberation Sans&quot;, sans-serif" >引风机</text>
<text x="649" y="99" font-size="10.5" fill="#111" font-family="&quot;Liberation Sans&quot;, sans-serif">布</text>
<text x="649" y="110" font-size="10.5" fill="#111" font-family="&quot;Liberation Sans&quot;, sans-serif">袋</text>
<text x="649" y="121" font-size="10.5" fill="#111" font-family="&quot;Liberation Sans&quot;, sans-serif">除</text>
<text x="649" y="132" font-size="10.5" fill="#111" font-family="&quot;Liberation Sans&quot;, sans-serif">尘</text>
<text x="649" y="143" font-size="10.5" fill="#111" font-family="&quot;Liberation Sans&quot;, sans-serif">器</text>
<rect x="253.9" y="318.6" width="3" height="3" fill="#f8d838"/>
<rect x="307.3" y="291.9" width="3" height="3" fill="#f6d028"/>
<rect x="211.7" y="279.7" width="3" height="3" fill="#f6d028"/>
<rect x="276.6" y="335.5" width="3" height="3" fill="#f8d838"/>
<rect x="267.2" y="340.3" width="3" height="3" fill="#f2c420"/>
<rect x="245.7" y="282.9" width="3" height="3" fill="#f2c420"/>
<rect x="269.9" y="299.5" width="3" height="3" fill="#f6d028"/>
<rect x="231.5" y="293.4" width="3" height="3" fill="#f6d028"/>
<rect x="245.4" y="335.3" width="3" height="3" fill="#f8d838"/>
<rect x="262.0" y="334.3" width="3" height="3" fill="#f2c420"/>
<rect x="262.5" y="321.8" width="3" height="3" fill="#f6d028"/>
<rect x="281.8" y="337.0" width="3" height="3" fill="#f8d838"/>
<rect x="238.7" y="328.5" width="3" height="3" fill="#f8d838"/>
<rect x="242.3" y="326.2" width="3" height="3" fill="#f2c420"/>
<rect x="237.8" y="326.5" width="3" height="3" fill="#f8d838"/>
<rect x="254.8" y="336.9" width="3" height="3" fill="#f8d838"/>
<rect x="284.3" y="320.9" width="3" height="3" fill="#f6d028"/>
<rect x="263.0" y="352.2" width="3" height="3" fill="#f8d838"/>
<rect x="242.4" y="286.4" width="3" height="3" fill="#f8d838"/>
<rect x="259.6" y="359.7" width="3" height="3" fill="#f2c420"/>
<rect x="275.1" y="354.5" width="3" height="3" fill="#f2c420"/>
<rect x="255.9" y="302.6" width="3" height="3" fill="#f6d028"/>
<rect x="278.7" y="346.7" width="3" height="3" fill="#f2c420"/>
<rect x="269.3" y="289.5" width="3" height="3" fill="#f6d028"/>
<rect x="257.1" y="351.1" width="3" height="3" fill="#f2c420"/>
<rect x="261.4" y="359.4" width="3" height="3" fill="#f6d028"/>
<rect x="238.5" y="300.4" width="3" height="3" fill="#f2c420"/>
<rect x="255.4" y="351.7" width="3" height="3" fill="#f8d838"/>
<rect x="294.1" y="322.4" width="3" height="3" fill="#f8d838"/>
<rect x="268.0" y="353.1" width="3" height="3" fill="#f8d838"/>
<rect x="296.4" y="284.0" width="3" height="3" fill="#f8d838"/>
<rect x="260.6" y="350.0" width="3" height="3" fill="#f6d028"/>
<rect x="246.5" y="330.9" width="3" height="3" fill="#f6d028"/>
<rect x="255.0" y="327.9" width="3" height="3" fill="#f8d838"/>
<rect x="234.9" y="300.5" width="3" height="3" fill="#f6d028"/>
<rect x="254.8" y="339.5" width="3" height="3" fill="#f2c420"/>
<rect x="277.0" y="330.3" width="3" height="3" fill="#f2c420"/>
<rect x="248.3" y="331.0" width="3" height="3" fill="#f2c420"/>
<rect x="264.7" y="330.7" width="3" height="3" fill="#f6d028"/>
<rect x="256.1" y="357.7" width="3" height="3" fill="#f8d838"/>
<rect x="258.9" y="355.9" width="3" height="3" fill="#f8d838"/>
<rect x="257.3" y="353.3" width="3" height="3" fill="#f2c420"/>
<rect x="257.0" y="355.6" width="3" height="3" fill="#f8d838"/>
<rect x="254.7" y="348.9" width="3" height="3" fill="#f6d028"/>
<rect x="271.2" y="350.4" width="3" height="3" fill="#f6d028"/>
<rect x="284.0" y="306.4" width="3" height="3" fill="#f6d028"/>
<rect x="254.0" y="349.5" width="3" height="3" fill="#f8d838"/>
<rect x="273.1" y="357.9" width="3" height="3" fill="#f2c420"/>
<rect x="257.8" y="357.9" width="3" height="3" fill="#f6d028"/>
<rect x="262.8" y="330.0" width="3" height="3" fill="#f8d838"/>
<rect x="268.2" y="352.2" width="3" height="3" fill="#f8d838"/>
<rect x="308.1" y="290.3" width="3" height="3" fill="#f8d838"/>
<rect x="252.6" y="347.4" width="3" height="3" fill="#f8d838"/>
<rect x="297.2" y="319.4" width="3" height="3" fill="#f2c420"/>
<rect x="239.9" y="329.6" width="3" height="3" fill="#f6d028"/>
<rect x="266.5" y="302.9" width="3" height="3" fill="#f8d838"/>
<rect x="309.9" y="299.8" width="3" height="3" fill="#f8d838"/>
<rect x="258.9" y="357.0" width="3" height="3" fill="#f8d838"/>
<rect x="282.1" y="341.7" width="3" height="3" fill="#f2c420"/>
<rect x="262.8" y="359.4" width="3" height="3" fill="#f6d028"/>
<rect x="258.1" y="315.9" width="3" height="3" fill="#f2c420"/>
<rect x="273.1" y="351.9" width="3" height="3" fill="#f8d838"/>
<rect x="260.0" y="337.6" width="3" height="3" fill="#f8d838"/>
<rect x="282.8" y="297.6" width="3" height="3" fill="#f6d028"/>
<rect x="247.9" y="339.2" width="3" height="3" fill="#f6d028"/>
<rect x="267.0" y="330.3" width="3" height="3" fill="#f2c420"/>
<rect x="263.1" y="343.6" width="3" height="3" fill="#f6d028"/>
<rect x="253.8" y="354.3" width="3" height="3" fill="#f6d028"/>
<rect x="277.8" y="332.7" width="3" height="3" fill="#f6d028"/>
<rect x="264.2" y="328.1" width="3" height="3" fill="#f8d838"/>
<rect x="277.7" y="306.3" width="3" height="3" fill="#f8d838"/>
<rect x="272.1" y="357.2" width="3" height="3" fill="#f2c420"/>
<rect x="256.8" y="356.3" width="3" height="3" fill="#f2c420"/>
<rect x="240.3" y="298.5" width="3" height="3" fill="#f6d028"/>
<rect x="246.3" y="327.0" width="3" height="3" fill="#f6d028"/>
<rect x="260.8" y="357.1" width="3" height="3" fill="#f2c420"/>
<rect x="256.5" y="354.3" width="3" height="3" fill="#f6d028"/>
<rect x="295.1" y="324.7" width="3" height="3" fill="#f6d028"/>
<rect x="265.3" y="301.8" width="3" height="3" fill="#f2c420"/>
<rect x="238.7" y="326.5" width="3" height="3" fill="#f2c420"/>
<rect x="256.3" y="273.7" width="3" height="3" fill="#f6d028"/>
<rect x="250.5" y="323.6" width="3" height="3" fill="#f6d028"/>
<rect x="236.3" y="295.0" width="3" height="3" fill="#f6d028"/>
<rect x="268.6" y="290.1" width="3" height="3" fill="#f6d028"/>
<rect x="269.1" y="351.1" width="3" height="3" fill="#f2c420"/>
<rect x="264.8" y="325.3" width="3" height="3" fill="#f2c420"/>
<rect x="258.9" y="344.6" width="3" height="3" fill="#f2c420"/>
<rect x="252.5" y="355.0" width="3" height="3" fill="#f2c420"/>
<rect x="217.1" y="290.1" width="3" height="3" fill="#f6d028"/>
<rect x="266.9" y="328.9" width="3" height="3" fill="#f2c420"/>
<rect x="278.2" y="340.0" width="3" height="3" fill="#f6d028"/>
<rect x="286.0" y="312.9" width="3" height="3" fill="#f8d838"/>
<rect x="258.3" y="347.9" width="3" height="3" fill="#f2c420"/>
<rect x="249.4" y="350.3" width="3" height="3" fill="#f6d028"/>
<rect x="252.6" y="346.4" width="3" height="3" fill="#f2c420"/>
<rect x="276.7" y="311.3" width="3" height="3" fill="#f8d838"/>
<rect x="284.1" y="327.3" width="3" height="3" fill="#f2c420"/>
<rect x="257.9" y="358.6" width="3" height="3" fill="#f6d028"/>
<rect x="278.2" y="320.2" width="3" height="3" fill="#f8d838"/>
<rect x="310.6" y="298.9" width="3" height="3" fill="#f6d028"/>
<rect x="314.1" y="271.4" width="3" height="3" fill="#f2c420"/>
<rect x="296.9" y="302.0" width="3" height="3" fill="#f8d838"/>
<rect x="267.7" y="358.6" width="3" height="3" fill="#f6d028"/>
<rect x="255.4" y="329.3" width="3" height="3" fill="#f2c420"/>
<rect x="258.6" y="358.7" width="3" height="3" fill="#f2c420"/>
<rect x="239.3" y="308.4" width="3" height="3" fill="#f2c420"/>
<rect x="250.6" y="332.3" width="3" height="3" fill="#f2c420"/>
<rect x="263.5" y="351.0" width="3" height="3" fill="#f2c420"/>
<rect x="268.1" y="316.9" width="3" height="3" fill="#f6d028"/>
<rect x="279.6" y="342.1" width="3" height="3" fill="#f2c420"/>
<rect x="263.6" y="348.2" width="3" height="3" fill="#f2c420"/>
<rect x="247.1" y="345.9" width="3" height="3" fill="#f8d838"/>
<rect x="269.7" y="354.8" width="3" height="3" fill="#f8d838"/>
<rect x="264.3" y="298.8" width="3" height="3" fill="#f6d028"/>
<rect x="275.4" y="351.4" width="3" height="3" fill="#f8d838"/>
<rect x="254.9" y="357.9" width="3" height="3" fill="#f6d028"/>
<rect x="225.2" y="298.0" width="3" height="3" fill="#f2c420"/>
<rect x="270.0" y="336.0" width="3" height="3" fill="#f8d838"/>
<rect x="244.7" y="311.2" width="3" height="3" fill="#f8d838"/>
<rect x="267.2" y="355.1" width="3" height="3" fill="#f2c420"/>
<rect x="263.7" y="312.0" width="3" height="3" fill="#f6d028"/>
<rect x="260.6" y="309.8" width="3" height="3" fill="#f2c420"/>
<rect x="240.6" y="288.8" width="3" height="3" fill="#f6d028"/>
<rect x="244.9" y="339.7" width="3" height="3" fill="#f6d028"/>
<rect x="277.5" y="319.3" width="3" height="3" fill="#f8d838"/>
<rect x="247.5" y="336.6" width="3" height="3" fill="#f8d838"/>
<rect x="274.3" y="292.8" width="3" height="3" fill="#f2c420"/>
<rect x="241.9" y="329.7" width="3" height="3" fill="#f8d838"/>
<rect x="302.0" y="306.3" width="3" height="3" fill="#f6d028"/>
<rect x="282.8" y="315.5" width="3" height="3" fill="#f2c420"/>
<rect x="291.8" y="323.8" width="3" height="3" fill="#f6d028"/>
<rect x="275.1" y="337.5" width="3" height="3" fill="#f6d028"/>
<rect x="253.7" y="338.9" width="3" height="3" fill="#f6d028"/>
<rect x="271.1" y="344.8" width="3" height="3" fill="#f6d028"/>
<rect x="280.9" y="301.5" width="3" height="3" fill="#f2c420"/>
<rect x="251.3" y="316.7" width="3" height="3" fill="#f2c420"/>
<rect x="312.8" y="262.0" width="3" height="3" fill="#f6d028"/>
<rect x="261.0" y="357.1" width="3" height="3" fill="#f2c420"/>
<rect x="297.0" y="322.7" width="3" height="3" fill="#f8d838"/>
<rect x="292.0" y="288.7" width="3" height="3" fill="#f6d028"/>
<rect x="275.2" y="314.7" width="3" height="3" fill="#f6d028"/>
<rect x="251.8" y="311.7" width="3" height="3" fill="#f2c420"/>
<rect x="248.5" y="349.3" width="3" height="3" fill="#f8d838"/>
<rect x="267.3" y="324.9" width="3" height="3" fill="#f6d028"/>
<rect x="267.2" y="345.7" width="3" height="3" fill="#f6d028"/>
<rect x="263.3" y="341.3" width="3" height="3" fill="#f6d028"/>
<rect x="243.9" y="302.9" width="3" height="3" fill="#f2c420"/>
<rect x="255.2" y="346.8" width="3" height="3" fill="#f8d838"/>
<rect x="277.7" y="310.6" width="3" height="3" fill="#f6d028"/>
<rect x="269.1" y="302.5" width="3" height="3" fill="#f2c420"/>
<rect x="255.4" y="335.5" width="3" height="3" fill="#f2c420"/>
<rect x="248.2" y="326.9" width="3" height="3" fill="#f6d028"/>
<rect x="246.3" y="320.2" width="3" height="3" fill="#f8d838"/>
<rect x="274.9" y="306.6" width="3" height="3" fill="#f8d838"/>
<rect x="255.4" y="333.8" width="3" height="3" fill="#f6d028"/>
<rect x="256.2" y="332.0" width="3" height="3" fill="#f8d838"/>
<rect x="283.4" y="332.4" width="3" height="3" fill="#f6d028"/>
<rect x="251.7" y="291.6" width="3" height="3" fill="#f8d838"/>
<rect x="284.5" y="328.3" width="3" height="3" fill="#f6d028"/>
<rect x="290.0" y="297.1" width="3" height="3" fill="#f2c420"/>
<rect x="255.0" y="358.5" width="3" height="3" fill="#f8d838"/>
<rect x="256.8" y="352.9" width="3" height="3" fill="#f6d028"/>
<rect x="267.3" y="309.0" width="3" height="3" fill="#f8d838"/>
<rect x="278.9" y="344.6" width="3" height="3" fill="#f6d028"/>
<rect x="264.2" y="335.6" width="3" height="3" fill="#f6d028"/>
<rect x="248.0" y="341.4" width="3" height="3" fill="#f2c420"/>
<rect x="277.5" y="334.0" width="3" height="3" fill="#f6d028"/>
<rect x="273.2" y="287.5" width="3" height="3" fill="#f2c420"/>
<rect x="224.4" y="312.8" width="3" height="3" fill="#f8d838"/>
<rect x="297.9" y="316.6" width="3" height="3" fill="#f8d838"/>
<rect x="264.8" y="352.1" width="3" height="3" fill="#f6d028"/>
<rect x="259.7" y="358.1" width="3" height="3" fill="#f6d028"/>
<rect x="276.8" y="305.7" width="3" height="3" fill="#f6d028"/>
<rect x="297.7" y="312.5" width="3" height="3" fill="#f6d028"/>
<rect x="275.8" y="331.6" width="3" height="3" fill="#f2c420"/>
<rect x="274.4" y="343.6" width="3" height="3" fill="#f8d838"/>
<rect x="230.3" y="286.9" width="3" height="3" fill="#f6d028"/>
<rect x="266.2" y="309.8" width="3" height="3" fill="#f8d838"/>
<rect x="254.0" y="331.8" width="3" height="3" fill="#f8d838"/>
<rect x="312.6" y="284.5" width="3" height="3" fill="#f6d028"/>
<rect x="233.3" y="307.9" width="3" height="3" fill="#f6d028"/>
<rect x="266.8" y="345.1" width="3" height="3" fill="#f2c420"/>
<rect x="279.4" y="346.4" width="3" height="3" fill="#f2c420"/>
<rect x="266.1" y="305.3" width="3" height="3" fill="#f2c420"/>
<rect x="249.0" y="278.1" width="3" height="3" fill="#f2c420"/>
<rect x="256.1" y="359.3" width="3" height="3" fill="#f6d028"/>
<rect x="298.8" y="314.6" width="3" height="3" fill="#f6d028"/>
<rect x="257.9" y="336.2" width="3" height="3" fill="#f2c420"/>
<rect x="250.3" y="351.2" width="3" height="3" fill="#f2c420"/>
<rect x="259.2" y="305.9" width="3" height="3" fill="#f2c420"/>
<rect x="307.7" y="288.4" width="3" height="3" fill="#f6d028"/>
<rect x="250.8" y="258.7" width="3" height="3" fill="#f6d028"/>
<rect x="279.6" y="328.3" width="3" height="3" fill="#f6d028"/>
<rect x="195.6" y="259.6" width="3" height="3" fill="#f6d028"/>
<rect x="324.7" y="261.6" width="3" height="3" fill="#f6d028"/>
<rect x="294.2" y="278.9" width="3" height="3" fill="#f6d028"/>
<rect x="255.9" y="336.0" width="3" height="3" fill="#f6d028"/>
<rect x="319.2" y="280.2" width="3" height="3" fill="#f6d028"/>
<rect x="244.5" y="310.9" width="3" height="3" fill="#f6d028"/>
<rect x="251.0" y="319.8" width="3" height="3" fill="#f6d028"/>
<rect x="204.2" y="280.5" width="3" height="3" fill="#f6d028"/>
<rect x="291.2" y="323.3" width="3" height="3" fill="#f6d028"/>
<rect x="299.1" y="312.4" width="3" height="3" fill="#f6d028"/>
<rect x="224.3" y="258.2" width="3" height="3" fill="#f6d028"/>
<rect x="308.5" y="298.3" width="3" height="3" fill="#f6d028"/>
<rect x="258.9" y="340.9" width="3" height="3" fill="#f6d028"/>
<rect x="255.3" y="278.3" width="3" height="3" fill="#f6d028"/>
<rect x="304.8" y="299.9" width="3" height="3" fill="#f6d028"/>
<rect x="303.6" y="272.3" width="3" height="3" fill="#f6d028"/>
<rect x="285.7" y="321.7" width="3" height="3" fill="#f6d028"/>
<rect x="270.7" y="324.8" width="3" height="3" fill="#f6d028"/>
<rect x="243.3" y="285.2" width="3" height="3" fill="#f6d028"/>
<rect x="295.1" y="288.2" width="3" height="3" fill="#f6d028"/>
<rect x="220.8" y="263.0" width="3" height="3" fill="#f6d028"/>
<rect x="247.2" y="323.0" width="3" height="3" fill="#f6d028"/>
<rect x="196.7" y="261.8" width="3" height="3" fill="#f6d028"/>
<rect x="248.4" y="305.2" width="3" height="3" fill="#f6d028"/>
<rect x="279.2" y="343.2" width="3" height="3" fill="#f6d028"/>
<rect x="254.6" y="343.9" width="3" height="3" fill="#f6d028"/>
<rect x="206.6" y="263.5" width="3" height="3" fill="#f6d028"/>
<rect x="283.8" y="300.4" width="3" height="3" fill="#f6d028"/>
<rect x="237.1" y="295.8" width="3" height="3" fill="#f6d028"/>
<rect x="276.5" y="293.1" width="3" height="3" fill="#f6d028"/>
<rect x="282.5" y="316.0" width="3" height="3" fill="#f6d028"/>
<rect x="272.9" y="331.4" width="3" height="3" fill="#f6d028"/>
<rect x="311.0" y="266.8" width="3" height="3" fill="#f6d028"/>
<rect x="271.8" y="282.1" width="3" height="3" fill="#f6d028"/>
<rect x="289.9" y="289.2" width="3" height="3" fill="#f6d028"/>
<rect x="231.4" y="273.7" width="3" height="3" fill="#f6d028"/>
<rect x="221.0" y="277.8" width="3" height="3" fill="#f6d028"/>
<rect x="267.8" y="334.7" width="3" height="3" fill="#f6d028"/>
<rect x="252.0" y="285.0" width="3" height="3" fill="#f6d028"/>
<rect x="264.1" y="344.3" width="3" height="3" fill="#f6d028"/>
<rect x="302.6" y="276.6" width="3" height="3" fill="#f6d028"/>
<rect x="301.8" y="314.1" width="3" height="3" fill="#f6d028"/>
<rect x="260.4" y="265.1" width="3" height="3" fill="#f6d028"/>
<rect x="283.7" y="328.9" width="3" height="3" fill="#f6d028"/>
<rect x="241.9" y="337.4" width="3" height="3" fill="#f6d028"/>
<rect x="218.9" y="282.1" width="3" height="3" fill="#f6d028"/>
<rect x="325.5" y="272.9" width="3" height="3" fill="#f6d028"/>
<rect x="300.6" y="307.9" width="3" height="3" fill="#f6d028"/>
<rect x="304.0" y="289.1" width="3" height="3" fill="#f6d028"/>
<rect x="239.8" y="296.0" width="3" height="3" fill="#f6d028"/>
<rect x="292.0" y="325.2" width="3" height="3" fill="#f6d028"/>
<rect x="277.4" y="265.4" width="3" height="3" fill="#f6d028"/>
<rect x="241.0" y="311.2" width="3" height="3" fill="#f6d028"/>
<rect x="224.6" y="288.8" width="3" height="3" fill="#f6d028"/>
<rect x="232.5" y="274.2" width="3" height="3" fill="#f6d028"/>
<rect x="276.5" y="309.3" width="3" height="3" fill="#f6d028"/>
<rect x="201.1" y="274.1" width="3" height="3" fill="#f6d028"/>
<rect x="284.3" y="285.1" width="3" height="3" fill="#f6d028"/>
<rect x="239.4" y="272.5" width="3" height="3" fill="#f6d028"/>
<rect x="301.9" y="274.1" width="3" height="3" fill="#f6d028"/>
<rect x="224.9" y="304.8" width="3" height="3" fill="#f6d028"/>
<rect x="249.3" y="265.0" width="3" height="3" fill="#f6d028"/>
<rect x="276.3" y="305.0" width="3" height="3" fill="#f6d028"/>
<rect x="216.4" y="264.1" width="3" height="3" fill="#f6d028"/>
<rect x="257.3" y="317.9" width="3" height="3" fill="#f6d028"/>
<rect x="241.0" y="281.2" width="3" height="3" fill="#f6d028"/>
<rect x="255.7" y="340.8" width="3" height="3" fill="#f6d028"/>
<rect x="251.4" y="306.4" width="3" height="3" fill="#f6d028"/>
<rect x="301.9" y="293.1" width="3" height="3" fill="#f6d028"/>
<rect x="258.6" y="344.7" width="3" height="3" fill="#f6d028"/>
<rect x="293.4" y="273.6" width="3" height="3" fill="#f6d028"/>
<rect x="200.4" y="274.1" width="3" height="3" fill="#f6d028"/>
<rect x="202.0" y="90.0" width="3" height="3" fill="#f6d028"/>
<rect x="332.0" y="83.0" width="3" height="3" fill="#f6d028"/>
<rect x="335.0" y="87.0" width="3" height="3" fill="#f6d028"/>
<rect x="215.0" y="113.0" width="3" height="3" fill="#f6d028"/>
<rect x="222.0" y="110.0" width="3" height="3" fill="#f6d028"/>
<rect x="300.0" y="111.0" width="3" height="3" fill="#f6d028"/>
<rect x="249.0" y="137.0" width="3" height="3" fill="#f6d028"/>
<rect x="196.0" y="148.0" width="3" height="3" fill="#f6d028"/>
<rect x="327.0" y="187.0" width="3" height="3" fill="#f6d028"/>
<rect x="228.0" y="211.0" width="3" height="3" fill="#f6d028"/>
<rect x="250.0" y="247.0" width="3" height="3" fill="#f6d028"/>
<rect x="259.0" y="250.0" width="3" height="3" fill="#f6d028"/>
<rect x="302.0" y="244.0" width="3" height="3" fill="#f6d028"/>
<rect x="305.0" y="252.0" width="3" height="3" fill="#f6d028"/>
<rect x="215.0" y="249.0" width="3" height="3" fill="#f6d028"/>
<rect x="231.0" y="250.0" width="3" height="3" fill="#f6d028"/>
<rect x="271.0" y="243.0" width="3" height="3" fill="#f6d028"/>
<rect x="445.9" y="256.8" width="3" height="3" fill="#f6d028"/>
<rect x="445.1" y="249.1" width="3" height="3" fill="#f6d028"/>
<rect x="446.6" y="255.0" width="3" height="3" fill="#f6d028"/>
<rect x="423.7" y="187.3" width="3" height="3" fill="#f6d028"/>
<rect x="453.4" y="223.8" width="3" height="3" fill="#f6d028"/>
<rect x="439.1" y="257.5" width="3" height="3" fill="#f6d028"/>
<rect x="442.6" y="230.5" width="3" height="3" fill="#f6d028"/>
<rect x="431.7" y="219.4" width="3" height="3" fill="#f6d028"/>
<rect x="448.5" y="198.6" width="3" height="3" fill="#f6d028"/>
<rect x="439.9" y="259.0" width="3" height="3" fill="#f6d028"/>
<rect x="461.4" y="218.1" width="3" height="3" fill="#f6d028"/>
<rect x="442.4" y="262.9" width="3" height="3" fill="#f6d028"/>
<rect x="469.2" y="183.9" width="3" height="3" fill="#f6d028"/>
<rect x="447.2" y="263.7" width="3" height="3" fill="#f6d028"/>
<rect x="468.4" y="177.0" width="3" height="3" fill="#f6d028"/>
<rect x="467.3" y="208.5" width="3" height="3" fill="#f6d028"/>
<rect x="459.7" y="230.3" width="3" height="3" fill="#f6d028"/>
<rect x="461.5" y="187.1" width="3" height="3" fill="#f6d028"/>
<rect x="442.8" y="192.9" width="3" height="3" fill="#f6d028"/>
<rect x="455.5" y="251.6" width="3" height="3" fill="#f6d028"/>
<rect x="433.7" y="189.2" width="3" height="3" fill="#f6d028"/>
<rect x="448.4" y="209.6" width="3" height="3" fill="#f6d028"/>
<rect x="429.0" y="208.1" width="3" height="3" fill="#f6d028"/>
<rect x="458.5" y="195.2" width="3" height="3" fill="#f6d028"/>
<rect x="437.8" y="256.3" width="3" height="3" fill="#f6d028"/>
<rect x="458.1" y="224.9" width="3" height="3" fill="#f6d028"/>
<rect x="464.1" y="175.6" width="3" height="3" fill="#f6d028"/>
<rect x="452.4" y="183.1" width="3" height="3" fill="#f6d028"/>
<rect x="452.8" y="223.7" width="3" height="3" fill="#f6d028"/>
<rect x="443.6" y="200.8" width="3" height="3" fill="#f6d028"/>
<rect x="578.0" y="121.0" width="3" height="3" fill="#f6d028"/>
<rect x="590.0" y="150.0" width="3" height="3" fill="#f6d028"/>
<rect x="598.0" y="140.0" width="3" height="3" fill="#f6d028"/>
<rect x="620.0" y="145.0" width="3" height="3" fill="#f6d028"/>
<rect x="597.0" y="170.0" width="3" height="3" fill="#f6d028"/>
<rect x="601.0" y="160.0" width="3" height="3" fill="#f6d028"/>
<polygon points="242,456 242.0,446.9 245.0,446.7 248.0,447.1 251.0,446.7 254.0,446.7 257.0,445.9 260.0,447.0 263.0,446.8 266.0,446.3 269.0,447.3 272.0,447.3 275.0,446.7 278.0,446.2 281.0,446.8 284.0,446.1 287.0,446.1 287,446.8 287,456" fill="#ecb810"/>
<polygon points="425.5,451 425.5,441.1 428.5,440.5 431.5,441.1 434.5,441.2 437.5,440.4 440.5,441.4 443.5,440.4 446.5,441.6 449.5,441.7 452.5,441.2 455.5,440.4 458.5,441.2 461.5,441.0 464.5,442.0 467.5,440.5 470.5,441.8 470.8,441.2 470.8,451" fill="#ecb810"/>
<polygon points="573,395 573.0,386.4 576.0,385.9 579.0,386.1 582.0,384.9 585.0,386.4 588.0,385.5 591.0,386.3 594.0,386.2 597.0,384.9 600.0,386.0 603.0,386.3 606.0,384.7 609.0,385.2 612.0,386.0 615.0,384.9 617,385.5 617,395" fill="#ecb810"/>
</svg></body></html>
